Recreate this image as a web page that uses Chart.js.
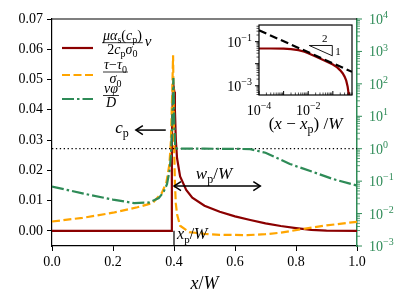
<!DOCTYPE html>
<html>
<head>
<meta charset="utf-8">
<script src="https://cdn.jsdelivr.net/npm/chart.js@4/dist/chart.umd.min.js"></script>
<style>
html, body { margin: 0; padding: 0; background: #fff; }
#wrap { position: relative; width: 415px; height: 308px; }
#main { position: absolute; left: 0; top: 0; }
#inset { position: absolute; left: 205px; top: 15px; }
</style>
</head>
<body>
<div id="wrap">
<canvas id="main" width="415" height="308"></canvas>
<canvas id="inset" width="155" height="122"></canvas>
</div>
<script>
var FONT = '"Liberation Serif", serif';
var RED = '#8b0000', ORANGE = '#ffa500', GREEN = '#2e8b57';

// main axes
var xTicks = [0, 0.2, 0.4, 0.6, 0.8, 1.0];
var yTicks = [0, 0.01, 0.02, 0.03, 0.04, 0.05, 0.06, 0.07];
var phiDecades = [-3, -2, -1, 0, 1, 2, 3, 4];
var xp = 0.4;

// mu alpha_s(c_p) v / (2 c_p sigma_0)
var velX = [0, 0.392, 0.393, 0.397, 0.401, 0.403, 0.406, 0.41, 0.42, 0.44, 0.46, 0.5, 0.55, 0.6, 0.65, 0.7, 0.75, 0.8, 0.85, 0.9, 1.0];
var velY = [0, 0, 0.03, 0.049, 0.046, 0.04, 0.03, 0.024, 0.018, 0.0135, 0.011, 0.0083, 0.0063, 0.0048, 0.0036, 0.0025, 0.0016, 0.0009, 0.0003, 0.0001, 0];

// (tau - tau_0) / sigma_0
var tauX = [0, 0.1, 0.2, 0.28, 0.33, 0.36, 0.375, 0.385, 0.39, 0.394, 0.397, 0.4, 0.403, 0.406, 0.41, 0.42, 0.45, 0.5, 0.55, 0.64, 0.7, 0.75, 0.82, 0.9, 1.0];
var tauY = [0.0031, 0.0043, 0.006, 0.0078, 0.0092, 0.0125, 0.016, 0.022, 0.03, 0.045, 0.058, 0.03, 0.0156, 0.009, 0.0055, 0.0017, -0.0004, -0.001, -0.0013, -0.0014, -0.0011, -0.0006, 0.0006, 0.0018, 0.003];

// v phi / D  (right, log)
var phiX = [0, 0.1, 0.2, 0.27, 0.32, 0.35, 0.365, 0.377, 0.385, 0.39, 0.394, 0.398, 0.401, 0.404, 0.41, 0.5, 0.6, 0.65, 0.7, 0.75, 0.78, 0.8, 0.857, 0.92, 1.0];
var phiY = [0.068, 0.042, 0.027, 0.021, 0.022, 0.03, 0.045, 0.08, 0.2, 0.6, 5, 150, 6, 1.1, 1.0, 1.0, 0.99, 0.97, 0.75, 0.46, 0.34, 0.29, 0.19, 0.117, 0.073];

var levelX = [0, 1];
var levelY = [1, 1];

// inset: v against x - x_p
var insetX = [1e-4, 3e-4, 1e-3, 2e-3, 4e-3, 7e-3, 0.01, 0.02, 0.05, 0.1, 0.15, 0.2, 0.25, 0.3, 0.35, 0.4, 0.43, 0.45];
var insetY = [0.049, 0.049, 0.048, 0.046, 0.041, 0.035, 0.03, 0.021, 0.0132, 0.0092, 0.0068, 0.005, 0.0037, 0.0026, 0.0017, 0.0009, 0.0005, 0.0003];
var guideX = [1e-4, 0.6];
var guideY = [0.33, 0.00426];
var slopeX = [0.011, 0.095];
var slopeY = [0.067, 0.0228];
var insetXLabels = [-4, -2];
var insetYLabels = [-3, -1];

function pts(xs, ys) {
    return xs.map(function (x, i) { return {x: x, y: ys[i]}; });
}

function line(ctx, x1, y1, x2, y2) {
    ctx.beginPath(); ctx.moveTo(x1, y1); ctx.lineTo(x2, y2); ctx.stroke();
}

function fontFor(style, size) {
    var small = style === 'b' || style === 'p';
    var italic = style === 'i';
    return (italic ? 'italic ' : '') + (small ? Math.round(size * 0.7) : size) + 'px ' + FONT;
}
function richWidth(ctx, segs, size) {
    var w = 0;
    segs.forEach(function (s) { ctx.font = fontFor(s[1], size); w += ctx.measureText(s[0]).width; });
    return w;
}
// segs: [text, style]  i italic, r roman, b subscript, p superscript
function drawRich(ctx, segs, x, y, size, align) {
    var w = richWidth(ctx, segs, size);
    if (align === 'center') x -= w / 2;
    else if (align === 'right') x -= w;
    ctx.textAlign = 'left';
    ctx.textBaseline = 'alphabetic';
    segs.forEach(function (s) {
        ctx.font = fontFor(s[1], size);
        var dy = s[1] === 'b' ? size * 0.25 : (s[1] === 'p' ? -size * 0.42 : 0);
        ctx.fillText(s[0], x, y + dy);
        x += ctx.measureText(s[0]).width;
    });
    return w;
}
function drawPow(ctx, k, x, y, size, align) {
    var e = k < 0 ? '\u2212' + (-k) : '' + k;
    drawRich(ctx, [['10', 'r'], [e, 'p']], x, y, size, align);
}
function drawFrac(ctx, num, den, x, yBar, size) {
    var w = Math.max(richWidth(ctx, num, size), richWidth(ctx, den, size)) + 2;
    drawRich(ctx, num, x + w / 2, yBar - 3, size, 'center');
    drawRich(ctx, den, x + w / 2, yBar + size * 0.8, size, 'center');
    ctx.lineWidth = 0.8;
    line(ctx, x, yBar, x + w, yBar);
    return w;
}
function arrowHead(ctx, x, y, dir) {
    ctx.beginPath();
    ctx.moveTo(x - dir * 7, y - 4.5);
    ctx.lineTo(x, y);
    ctx.lineTo(x - dir * 7, y + 4.5);
    ctx.stroke();
}
function logTicks(scale, lo, hi, cb) {
    for (var k = lo; k <= hi; k++) {
        for (var m = 1; m <= 9; m++) {
            var v = m * Math.pow(10, k);
            if (v < scale.min * 0.9999 || v > scale.max * 1.0001) continue;
            cb(scale.getPixelForValue(v), m === 1);
        }
    }
}

var mainDecor = {
    id: 'mainDecor',
    afterDraw: function (chart) {
        var ctx = chart.ctx, a = chart.chartArea;
        var sx = chart.scales.x, sy = chart.scales.y, sr = chart.scales.y2;
        ctx.save();
        ctx.strokeStyle = '#000';
        ctx.lineWidth = 1.2;
        line(ctx, a.left, a.top, a.right, a.top);

        // right log axis
        ctx.strokeStyle = GREEN;
        logTicks(sr, -3, 4, function (py, major) {
            ctx.lineWidth = major ? 1 : 0.8;
            line(ctx, a.right, py, a.right + (major ? 5 : 3), py);
        });
        ctx.fillStyle = GREEN;
        phiDecades.forEach(function (k) {
            drawPow(ctx, k, a.right + 12, sr.getPixelForValue(Math.pow(10, k)) + 5, 14, 'left');
        });

        // legend
        ctx.fillStyle = '#000';
        ctx.strokeStyle = '#000';
        var rows = [[48, RED, []], [75, ORANGE, [8, 3.5]], [99, GREEN, [12, 3, 2.5, 3]]];
        rows.forEach(function (r) {
            ctx.save();
            ctx.strokeStyle = r[1]; ctx.lineWidth = 2.2; ctx.setLineDash(r[2]);
            line(ctx, 62, r[0], 93, r[0]);
            ctx.restore();
        });
        var w1 = drawFrac(ctx, [['\u03bc\u03b1', 'i'], ['s', 'b'], ['(', 'r'], ['c', 'i'], ['p', 'b'], [')', 'r']],
            [['2', 'r'], ['c', 'i'], ['p', 'b'], ['\u03c3', 'i'], ['0', 'b']], 102, 42.7, 14);
        drawRich(ctx, [['v', 'i']], 102 + w1 + 2, 46, 15, 'left');
        drawFrac(ctx, [['\u03c4', 'i'], ['\u2212', 'r'], ['\u03c4', 'i'], ['0', 'b']], [['\u03c3', 'i'], ['0', 'b']], 103, 72, 14);
        drawFrac(ctx, [['v\u03c6', 'i']], [['D', 'i']], 103, 95.5, 14);

        // c_p arrow
        ctx.lineWidth = 1.5;
        var cy = sy.getPixelForValue(0.0333);
        var c1 = sx.getPixelForValue(0.373), c2 = sx.getPixelForValue(0.275);
        line(ctx, c1, cy, c2, cy);
        arrowHead(ctx, c2, cy, -1);
        drawRich(ctx, [['c', 'i'], ['p', 'b']], sx.getPixelForValue(0.252), cy + 3, 17, 'right');

        // w_p arrow
        var wy = sy.getPixelForValue(0.0148);
        var w1x = sx.getPixelForValue(xp), w2x = sx.getPixelForValue(0.683);
        line(ctx, w1x, wy, w2x, wy);
        arrowHead(ctx, w1x, wy, -1);
        arrowHead(ctx, w2x, wy, 1);
        drawRich(ctx, [['w', 'i'], ['p', 'b'], ['/', 'r'], ['W', 'i']], sx.getPixelForValue(0.531), sy.getPixelForValue(0.0172), 17, 'center');

        // x_p label
        drawRich(ctx, [['x', 'i'], ['p', 'b'], ['/', 'r'], ['W', 'i']], sx.getPixelForValue(0.41), sy.getPixelForValue(-0.0027), 16, 'left');

        // x axis label
        drawRich(ctx, [['x', 'i'], ['/', 'r'], ['W', 'i']], (sx.left + sx.right) / 2, 289, 18, 'center');
        ctx.restore();
    }
};

var mainChart = new Chart(document.getElementById('main').getContext('2d'), {
    type: 'line',
    data: {
        datasets: [
            {data: pts(phiX, phiY), yAxisID: 'y2', borderColor: GREEN, borderWidth: 2.2, borderDash: [12, 3, 2.5, 3]},
            {data: pts(levelX, levelY), yAxisID: 'y2', borderColor: '#000', borderWidth: 1.3, borderDash: [1.3, 2.6]},
            {data: pts(tauX, tauY), yAxisID: 'y', borderColor: ORANGE, borderWidth: 2.2, borderDash: [8, 3.5]},
            {data: pts(velX, velY), yAxisID: 'y', borderColor: RED, borderWidth: 2.2},
            {data: [{x: xp, y: 0}, {x: xp, y: -0.005}], yAxisID: 'y', borderColor: '#000', borderWidth: 1.2}
        ]
    },
    options: {
        responsive: false,
        animation: false,
        layout: {padding: {top: 19}},
        elements: {point: {radius: 0}, line: {tension: 0, fill: false}},
        plugins: {legend: {display: false}, tooltip: {enabled: false}},
        scales: {
            x: {
                type: 'linear', min: 0, max: 1,
                afterFit: function (s) { s.height = 62; },
                afterBuildTicks: function (s) { s.ticks = xTicks.map(function (v) { return {value: v}; }); },
                ticks: {autoSkip: false, maxRotation: 0, padding: 3, color: '#000',
                    font: {family: FONT, size: 14},
                    callback: function (v) { return v.toFixed(1); }},
                grid: {drawOnChartArea: false, tickLength: 5, color: '#000', tickWidth: 1},
                border: {color: '#000', width: 1.2}
            },
            y: {
                type: 'linear', position: 'left', min: -0.005, max: 0.07,
                afterFit: function (s) { s.width = 52; },
                afterBuildTicks: function (s) { s.ticks = yTicks.map(function (v) { return {value: v}; }); },
                ticks: {autoSkip: false, padding: 4, color: '#000',
                    font: {family: FONT, size: 14},
                    callback: function (v) { return v.toFixed(2); }},
                grid: {drawOnChartArea: false, tickLength: 5, color: '#000', tickWidth: 1},
                border: {color: '#000', width: 1.2}
            },
            y2: {
                type: 'logarithmic', position: 'right', min: 1e-3, max: 1e4,
                afterFit: function (s) { s.width = 58; },
                ticks: {display: false},
                grid: {drawOnChartArea: false, drawTicks: false},
                border: {color: GREEN, width: 1.5}
            }
        }
    },
    plugins: [mainDecor]
});

var insetDecor = {
    id: 'insetDecor',
    beforeDraw: function (chart) {
        var ctx = chart.ctx, a = chart.chartArea;
        ctx.save();
        ctx.fillStyle = '#fff';
        ctx.fillRect(a.left, a.top, a.right - a.left, a.bottom - a.top);
        ctx.restore();
    },
    afterDraw: function (chart) {
        var ctx = chart.ctx, a = chart.chartArea;
        var sx = chart.scales.x, sy = chart.scales.y;
        ctx.save();
        ctx.strokeStyle = '#000';
        ctx.lineWidth = 1.2;
        ctx.strokeRect(a.left, a.top, a.right - a.left, a.bottom - a.top);
        logTicks(sx, -4, -1, function (px, major) {
            ctx.lineWidth = major ? 1 : 0.7;
            line(ctx, px, a.bottom, px, a.bottom - (major ? 4 : 2.5));
        });
        logTicks(sy, -4, -1, function (py, major) {
            ctx.lineWidth = major ? 1 : 0.7;
            line(ctx, a.left, py, a.left - (major ? 4 : 2.5), py);
        });
        ctx.fillStyle = '#000';
        insetXLabels.forEach(function (k) {
            drawPow(ctx, k, sx.getPixelForValue(Math.pow(10, k)), a.bottom + 20, 14, 'center');
        });
        insetYLabels.forEach(function (k) {
            drawPow(ctx, k, a.left - 7, sy.getPixelForValue(Math.pow(10, k)) + 5, 14, 'right');
        });
        drawRich(ctx, [['(', 'r'], ['x', 'i'], [' \u2212 ', 'r'], ['x', 'i'], ['p', 'b'], [')', 'r'], [' /', 'r'], ['W', 'i']],
            (a.left + a.right) / 2, a.bottom + 34, 17, 'center');

        // slope triangle
        var tx1 = sx.getPixelForValue(slopeX[0]), tx2 = sx.getPixelForValue(slopeX[1]);
        var ty1 = sy.getPixelForValue(slopeY[0]), ty2 = sy.getPixelForValue(slopeY[1]);
        ctx.lineWidth = 0.9;
        ctx.beginPath();
        ctx.moveTo(tx1, ty1); ctx.lineTo(tx2, ty1); ctx.lineTo(tx2, ty2); ctx.closePath();
        ctx.stroke();
        drawRich(ctx, [['2', 'r']], (tx1 + tx2) / 2 + 4, ty1 - 3, 11, 'center');
        drawRich(ctx, [['1', 'r']], tx2 + 3, (ty1 + ty2) / 2 + 4, 11, 'left');
        ctx.restore();
    }
};

var insetChart = new Chart(document.getElementById('inset').getContext('2d'), {
    type: 'line',
    data: {
        datasets: [
            {data: pts(guideX, guideY), borderColor: '#000', borderWidth: 2.2, borderDash: [8, 4]},
            {data: pts(insetX, insetY), borderColor: RED, borderWidth: 2.2}
        ]
    },
    options: {
        responsive: false,
        animation: false,
        layout: {padding: {top: 10, right: 8}},
        elements: {point: {radius: 0}, line: {tension: 0, fill: false}},
        plugins: {legend: {display: false}, tooltip: {enabled: false}},
        scales: {
            x: {
                type: 'logarithmic', min: 1e-4, max: 0.6,
                afterFit: function (s) { s.height = 42; },
                ticks: {display: false}, grid: {display: false}, border: {display: false}
            },
            y: {
                type: 'logarithmic', min: 3.8e-4, max: 0.57,
                afterFit: function (s) { s.width = 54; },
                ticks: {display: false}, grid: {display: false}, border: {display: false}
            }
        }
    },
    plugins: [insetDecor]
});
</script>
</body>
</html>
